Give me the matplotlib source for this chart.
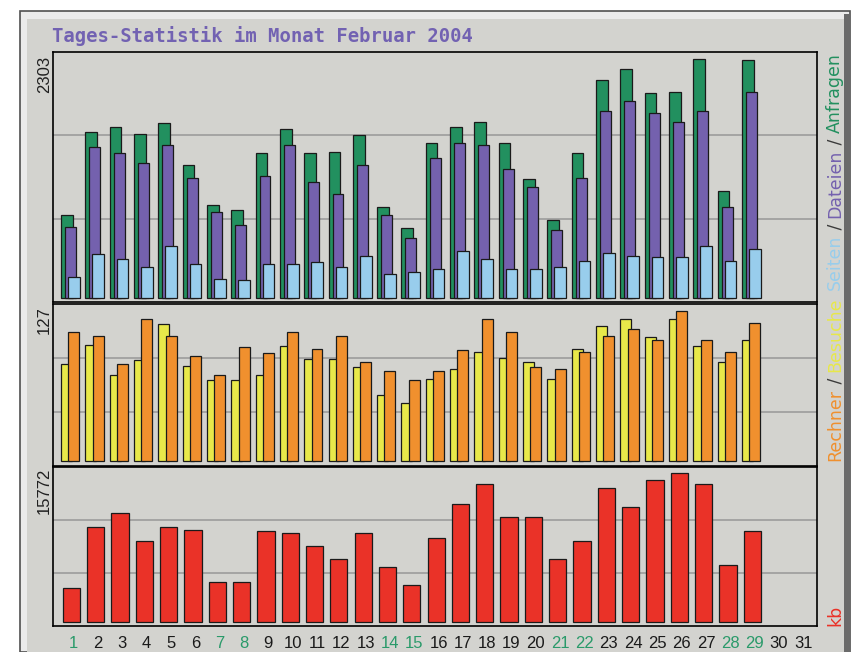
"""Tages-Statistik im Monat Februar 2004 (Webalizer style daily chart)"""

import matplotlib
matplotlib.use("Agg")
import matplotlib.pyplot as plt
import matplotlib.text as mtext
import numpy as np
from matplotlib.patches import Rectangle
from matplotlib.transforms import blended_transform_factory

W, H = 856, 652

# daily values, days 1..29
days = np.arange(1, 30)
anfragen = [800, 1597, 1645, 1583, 1689, 1285, 893, 848, 1394, 1628,
            1394, 1410, 1568, 877, 675, 1491, 1645, 1693, 1491, 1144,
            755, 1394, 2101, 2207, 1972, 1988, 2303, 1034, 2290]
dateien = [687, 1458, 1394, 1301, 1474, 1160, 832, 703, 1176, 1474,
           1115, 1002, 1285, 800, 581, 1346, 1491, 1474, 1240, 1067,
           658, 1160, 1802, 1895, 1786, 1693, 1802, 877, 1988]
seiten = [205, 424, 379, 302, 501, 331, 190, 173, 331, 331,
          347, 302, 408, 238, 254, 286, 456, 379, 286, 286,
          302, 363, 440, 411, 395, 395, 504, 363, 472]
besuche = [82, 98, 73, 85, 116, 80, 68, 68, 73, 97,
           86, 86, 79, 56, 49, 69, 78, 92, 87, 84,
           69, 95, 114, 120, 105, 120, 97, 84, 102]
rechner = [109, 106, 82, 120, 106, 89, 73, 96, 91, 109,
           95, 106, 84, 76, 68, 76, 94, 120, 109, 79,
           78, 92, 106, 112, 102, 127, 102, 92, 117]
kb = [3550, 10097, 11521, 8577, 10097, 9746, 4219, 4219, 9608, 9427,
      8014, 6664, 9427, 5782, 3900, 8896, 12509, 14603, 11127, 11127,
      6664, 8577, 14242, 12158, 15092, 15772, 14603, 5994, 9608]
all_days = list(range(1, 32))
weekend = [1, 7, 8, 14, 15, 21, 22, 28, 29]

BG = "#d3d3cf"
C_ANF = "#22905f"
C_DAT = "#7461ae"
C_SEI = "#98cdec"
C_BES = "#e8e84a"
C_REC = "#f0902e"
C_KB = "#ea3228"
C_TITLE = "#7262b2"
C_WE = "#2a9a6a"


def fx(x):
    return x / W


def fy(y):
    return 1 - y / H


fig = plt.figure(figsize=(W / 100, H / 100), dpi=100)
fig.patch.set_facecolor("white")

# outer bevelled frame, kept behind the axes
frame_kw = dict(transform=fig.transFigure, zorder=-10)
fig.add_artist(Rectangle((fx(20), 0), fx(830), fy(11), facecolor="#ebebeb",
                         edgecolor="#505050", lw=1.2, **frame_kw))
fig.add_artist(Rectangle((fx(27), 0), fx(817), fy(19), facecolor=BG,
                         edgecolor="none", **frame_kw))
fig.add_artist(Rectangle((fx(844), 0), fx(6), fy(14), facecolor="#6a6a6a",
                         edgecolor="none", **frame_kw))

fig.text(fx(52), fy(36), "Tages-Statistik im Monat Februar 2004",
         family="DejaVu Sans Mono", weight="bold", fontsize=13.6,
         color=C_TITLE, ha="left", va="center")

left, right = 52.5, 816.5
panels = [(52, 302), (303.5, 465.5), (466.5, 626)]
axes = []
for top, bot in panels:
    ax = fig.add_axes([fx(left), fy(bot), (right - left) / W, (bot - top) / H])
    ax.set_facecolor(BG)
    ax.set_xlim(0.227, 31.64)
    ax.set_xticks([])
    ax.set_yticks([])
    for s in ax.spines.values():
        s.set_color("black")
        s.set_linewidth(1.2)
    # webalizer draws its guide lines at a third and two thirds
    for f in (1 / 3, 2 / 3):
        ax.plot([0, 1], [f, f], transform=ax.transAxes, color="#979797",
                lw=1.1, zorder=0)
    axes.append(ax)
ax1, ax2, ax3 = axes

bar_kw = dict(align="edge", edgecolor="#1a1a1a", linewidth=0.9, zorder=2)
ax1.bar(days - 0.424, anfragen, width=0.48, color=C_ANF, **bar_kw)
ax1.bar(days - 0.26, dateien, width=0.45, color=C_DAT, **bar_kw)
ax1.bar(days - 0.136, seiten, width=0.48, color=C_SEI, **bar_kw)
ax1.set_ylim(-35.6, 2370)

ax2.bar(days - 0.424, besuche, width=0.45, color=C_BES, **bar_kw)
ax2.bar(days - 0.123, rechner, width=0.45, color=C_REC, **bar_kw)
ax2.set_ylim(-4.05, 133.2)

ax3.bar(days - 0.354, kb, width=0.71, color=C_KB, **bar_kw)
ax3.set_ylim(-457, 16495)

# maximum labels on the left
num_font = dict(family="Liberation Sans", fontsize=12, color="#202020")
for val, ytop in ((max(anfragen), 56), (max(rechner), 306), (max(kb), 468)):
    fig.text(fx(44.5), fy(ytop), str(val), rotation=90, ha="center",
             va="top", **num_font)

# day labels
tr = blended_transform_factory(ax3.transData, fig.transFigure)
for d in all_days:
    ax3.text(d + 0.1, fy(643), str(d), transform=tr, ha="center",
             va="center", family="Liberation Sans", fontsize=12,
             color=C_WE if d in weekend else "#1a1a1a", clip_on=False)

# rotated legend on the right, each piece anchored on the previous one
leg_font = dict(family="DejaVu Sans", fontsize=12.5, rotation=90,
                ha="center")
SL = "#3a3a3a"


def chain(parts, x, y, downward):
    va = "top" if downward else "bottom"
    prev = fig.text(fx(x), fy(y), parts[0][0], color=parts[0][1], va=va,
                    **leg_font)
    for txt, col in parts[1:]:
        prev = fig.add_artist(mtext.Annotation(
            txt, xy=(0.5, 0 if downward else 1), xycoords=prev, va=va,
            color=col, annotation_clip=False, **leg_font))


chain([("Anfragen", C_ANF), (" / ", SL), ("Dateien", C_DAT), (" / ", SL),
       ("Seiten", C_SEI)], 835, 53, True)
chain([("Rechner", C_REC), (" / ", SL), ("Besuche", C_BES)], 835, 461, False)
chain([("kb", C_KB)], 835, 626, False)

fig.savefig("out.png", dpi=100, facecolor=fig.get_facecolor())
